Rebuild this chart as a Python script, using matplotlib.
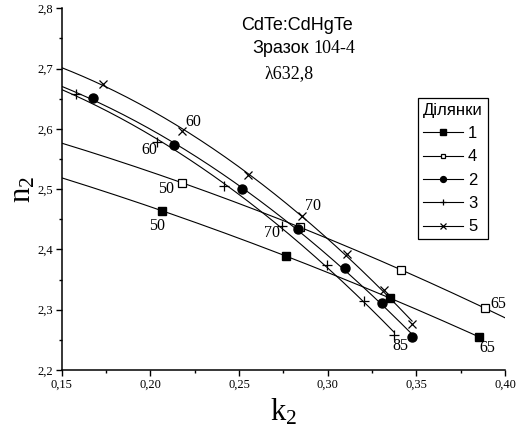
import numpy as np
import matplotlib
matplotlib.use("Agg")
import matplotlib.pyplot as plt
from matplotlib.ticker import MultipleLocator, FuncFormatter

# ---- data (k2, n2) ----
k_s1 = [0.2067, 0.2765, 0.3353, 0.3853]
n_s1 = [2.464, 2.389, 2.319, 2.255]
k_s4 = [0.2177, 0.2846, 0.3412, 0.3889]
n_s4 = [2.5107, 2.4367, 2.3663, 2.3023]
k_s2 = [0.1675, 0.2131, 0.2515, 0.2834, 0.3096, 0.3307, 0.3476]
n_s2 = [2.6507, 2.5729, 2.5005, 2.4334, 2.3692, 2.3106, 2.2547]
k_s3 = [0.1581, 0.2036, 0.2417, 0.2740, 0.2996, 0.3207, 0.3374]
n_s3 = [2.6573, 2.5790, 2.5060, 2.4388, 2.3741, 2.3144, 2.2580]
k_s5 = [0.1735, 0.2177, 0.2552, 0.2854, 0.3111, 0.3318, 0.3476]
n_s5 = [2.674, 2.597, 2.524, 2.4554, 2.392, 2.3327, 2.2757]
series_names = ["1", "4", "2", "3", "5"]
fit_end = [0.3853, 0.40, 0.3476, 0.3374, 0.3476]

SERIF = ["Liberation Serif", "DejaVu Serif"]
SANS = ["Liberation Sans", "DejaVu Sans"]

plt.rcParams["font.family"] = SERIF
plt.rcParams["mathtext.fontset"] = "custom"
plt.rcParams["mathtext.rm"] = "Liberation Serif"
plt.rcParams["mathtext.it"] = "Liberation Serif:italic"

fig = plt.figure(figsize=(5.17, 4.36), dpi=100)
ax = fig.add_axes([61.7/517, 1-370/436, (505-61.7)/517, (370-8.3)/436])

data = [(k_s1, n_s1), (k_s4, n_s4), (k_s2, n_s2), (k_s3, n_s3), (k_s5, n_s5)]
styles = [
    dict(marker="s", ms=6, mfc="black", mec="black"),
    dict(marker="s", ms=5.5, mfc="white", mec="black", mew=0.9),
    dict(marker="o", ms=6.5, mfc="black", mec="black"),
    dict(marker="+", ms=7, mfc="black", mec="black", mew=0.9),
    dict(marker="x", ms=6, mfc="black", mec="black", mew=0.9),
]

handles = []
for (k, n), st, name, xe in zip(data, styles, series_names, fit_end):
    coef = np.polyfit(k, n, 2)
    xx = np.linspace(0.15, xe, 200)
    ax.plot(xx, np.polyval(coef, xx), color="black", lw=0.8, zorder=2)
    ax.plot(k, n, ls="none", zorder=3, **st)
    h, = ax.plot([], [], color="black", lw=0.8, label=name,
                 **{**st, "ms": st["ms"] * 0.65})
    handles.append(h)

# point labels (offsets in points)
def lab(txt, x, y, dx, dy):
    ax.annotate(txt, (x, y), xytext=(dx, dy), textcoords="offset points",
                ha="center", va="center", fontsize=11.5, family=SERIF)

lab("50", k_s1[0], n_s1[0], -4, -11)
lab("65", k_s1[-1], n_s1[-1], 6, -8)
lab("50", k_s4[0], n_s4[0], -11, -4.5)
lab("65", k_s4[-1], n_s4[-1], 9.5, 3)
lab("60", k_s5[1], n_s5[1], 8.5, 6)
lab("60", k_s3[1], n_s3[1], -5.5, -6)
lab("70", k_s5[3], n_s5[3], 8, 7)
lab("70", k_s3[3], n_s3[3], -7, -5)
lab("85", k_s3[-1], n_s3[-1], 4.5, -8)

ax.set_xlim(0.15, 0.40)
ax.set_ylim(2.2, 2.8)
ax.xaxis.set_major_locator(MultipleLocator(0.05))
ax.xaxis.set_minor_locator(MultipleLocator(0.025))
ax.yaxis.set_major_locator(MultipleLocator(0.1))
ax.yaxis.set_minor_locator(MultipleLocator(0.05))
ax.xaxis.set_major_formatter(FuncFormatter(lambda v, p: f"{v:.2f}".replace(".", ",")))
ax.yaxis.set_major_formatter(FuncFormatter(lambda v, p: f"{v:.1f}".replace(".", ",")))
for s in ["top", "right"]:
    ax.spines[s].set_visible(False)
for s in ["left", "bottom"]:
    ax.spines[s].set_linewidth(1.1)
ax.tick_params(which="major", direction="out", length=4, width=1, labelsize=9, pad=2)
ax.tick_params(which="minor", direction="out", length=2.5, width=1)

ax.set_xlabel(r"$\mathregular{k_2}$", fontsize=22, labelpad=5)
ax.set_ylabel(r"$\mathregular{n_2}$", fontsize=22, labelpad=0)

fig.text(296.5/517, 1-30/436, "CdTe:CdHgTe", ha="center", va="baseline",
         fontsize=13, family=SANS)
fig.text(309/517, 1-53.3/436, "Зразок", ha="right", va="baseline",
         fontsize=13, family=SANS)
fig.text(313.5/517, 1-53.3/436, "104-4", ha="left", va="baseline",
         fontsize=13, family=SERIF)
fig.text(289/517, 1-78.3/436, "λ632,8", ha="center", va="baseline",
         fontsize=13, family=SERIF)

leg = ax.legend(handles=handles, title="Ділянки", loc="upper right",
                bbox_to_anchor=((487.7-61.7)/443.3, (370-97.7)/361.7),
                borderaxespad=0, fancybox=False, edgecolor="black",
                framealpha=1, handlelength=2.4, handletextpad=0.3,
                labelspacing=0.5, borderpad=0.3, prop={"family": SANS, "size": 12},
                title_fontproperties={"family": SANS, "size": 12})
leg.get_frame().set_linewidth(0.9)
leg._legend_box.align = "left"

fig.savefig("out.png", dpi=100)
